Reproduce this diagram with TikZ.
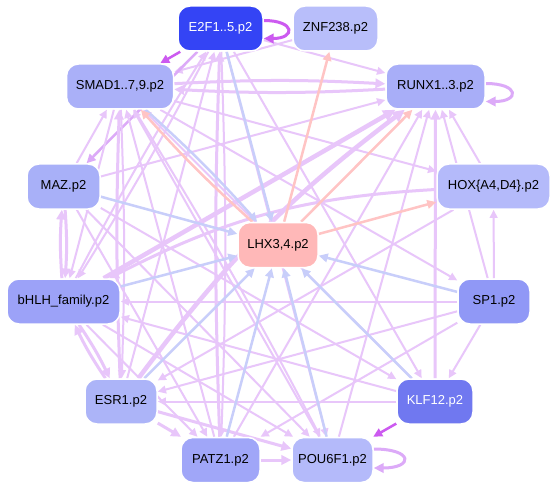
\documentclass[tikz,border=0pt]{standalone}
\usepackage{fontspec}
\setmainfont{Liberation Sans}
\usetikzlibrary{arrows.meta}
\pgfdeclarelayer{background}
\pgfdeclarelayer{canvas}
\pgfsetlayers{canvas,background,main}
\definecolor{cE2F}{RGB}{52,68,245}
\definecolor{cZNF}{RGB}{184,190,250}
\definecolor{cSMAD}{RGB}{170,176,248}
\definecolor{cRUNX}{RGB}{168,174,248}
\definecolor{cMAZ}{RGB}{168,176,248}
\definecolor{cHOX}{RGB}{180,186,250}
\definecolor{cLHX}{RGB}{255,184,184}
\definecolor{cbHLH}{RGB}{156,162,248}
\definecolor{cSP}{RGB}{144,152,246}
\definecolor{cESR}{RGB}{172,180,248}
\definecolor{cKLF}{RGB}{112,120,240}
\definecolor{cPATZ}{RGB}{160,166,248}
\definecolor{cPOU}{RGB}{180,186,250}
\definecolor{epur}{RGB}{232,198,250}
\definecolor{epurm}{RGB}{220,170,248}
\definecolor{epurd}{RGB}{204,90,240}
\definecolor{eblu}{RGB}{200,206,250}
\definecolor{epnk}{RGB}{255,196,196}
\begin{document}
\begin{tikzpicture}[x=1pt,y=-1pt,
  tf/.style={rectangle, rounded corners=12pt, draw=white, line width=1.5pt,
    minimum height=45pt, inner sep=0pt, text=black,
    font=\fontsize{13}{15}\selectfont},
  tipst/.style={-{Triangle[length=5pt 1.6,width=4.5pt 1.6]}},
  pa/.style={tipst, draw=epur, line width=2pt},
  pb/.style={tipst, draw=epur, line width=3pt},
  pc/.style={tipst, draw=epur, line width=4.5pt},
  pm/.style={tipst, draw=epurm, line width=2.5pt},
  pd/.style={tipst, draw=epurd, line width=2.5pt},
  bl/.style={tipst, draw=eblu, line width=2.5pt},
  pk/.style={tipst, draw=epnk, line width=2.5pt}]
\useasboundingbox (0,0) rectangle (556,489);
\begin{pgfonlayer}{canvas}
\fill[white] (0,0) rectangle (556,489);
\end{pgfonlayer}

\node[tf, fill=cE2F, text=white, minimum width=85pt] (E2F) at (220.5,28.5) {E2F1..5.p2};
\node[tf, fill=cZNF, minimum width=85pt] (ZNF) at (335.5,28.5) {ZNF238.p2};
\node[tf, fill=cSMAD, minimum width=107pt] (SMAD) at (120,86.5) {SMAD1..7,9.p2};
\node[tf, fill=cRUNX, minimum width=99pt] (RUNX) at (435.5,86.5) {RUNX1..3.p2};
\node[tf, fill=cMAZ, minimum width=73pt] (MAZ) at (63.5,186.5) {MAZ.p2};
\node[tf, fill=cHOX, minimum width=113pt] (HOX) at (493.5,186.5) {HOX\{A4,D4\}.p2};
\node[tf, fill=cLHX, minimum width=80pt] (LHX) at (278,245) {LHX3,4.p2};
\node[tf, fill=cbHLH, minimum width=113pt] (bHLH) at (63.5,301.5) {bHLH\_family.p2};
\node[tf, fill=cSP, minimum width=72pt] (SP1) at (494,301.5) {SP1.p2};
\node[tf, fill=cESR, minimum width=72pt] (ESR) at (121,401.5) {ESR1.p2};
\node[tf, fill=cKLF, text=white, minimum width=76pt] (KLF) at (435,401.5) {KLF12.p2};
\node[tf, fill=cPATZ, minimum width=79pt] (PATZ) at (220.5,460) {PATZ1.p2};
\node[tf, fill=cPOU, minimum width=81pt] (POU) at (332.5,460) {POU6F1.p2};

\begin{pgfonlayer}{background}
% purple edges
\draw[pb] (SMAD) to[bend left=3] (RUNX);
\draw[pb] (RUNX) to[bend left=3] (SMAD);
\draw[pa] (ZNF) -- (SMAD);
\draw[pa] (E2F) -- (RUNX);
\draw[pm] (E2F) -- (MAZ);
\draw[pb] (MAZ) to[bend left=4] (bHLH);
\draw[pb] (bHLH) to[bend left=4] (MAZ);
\draw[pa] (MAZ) -- (RUNX);
\draw[pc] (bHLH) -- (RUNX);
\draw[pc] (ESR) to[bend left=8] (RUNX);
\draw[pa] (MAZ) -- (SMAD);
\draw[pa] (SMAD) -- (bHLH);
\draw[pb] (ESR) to[bend left=2] (SMAD);
\draw[pa] (SMAD) to[bend left=2] (ESR);
\draw[pa] (PATZ) -- (SMAD);
\draw[pa] (POU) -- (SMAD);
\draw[pa] (KLF) -- (SMAD);
\draw[pa] (SMAD) to[bend left=2] (POU);
\draw[pa] (SMAD) -- (HOX);
\draw[pa] (SMAD) -- (SP1);
\draw[pa] (E2F) to[bend left=2] (bHLH);
\draw[pa] (bHLH) to[bend left=2] (E2F);
\draw[pa] (ESR) -- (E2F);
\draw[pb] (PATZ) to[bend left=2] (E2F);
\draw[pa] (E2F) to[bend left=2] (PATZ);
\draw[pa] (E2F) -- (POU);
\draw[pa] (E2F) -- (KLF);
\draw[pa] (HOX) -- (RUNX);
\draw[pa] (SP1) -- (HOX);
\draw[pa] (SP1) -- (bHLH);
\draw[pb] (HOX) to[bend right=12] (bHLH);
\draw[pa] (HOX) -- (ESR);
\draw[pa] (KLF) -- (ESR);
\draw[pa] (KLF) -- (bHLH);
\draw[pa] (SP1) -- (ESR);
\draw[pa] (SP1) -- (PATZ);
\draw[pa] (SP1) -- (KLF);
\draw[pb] (ESR) to[bend left=4] (bHLH);
\draw[pb] (bHLH) to[bend left=4] (ESR);
\draw[pa] (bHLH) -- (PATZ);
\draw[pa] (bHLH) -- (POU);
\draw[pb] (ESR) -- (PATZ);
\draw[pb] (ESR) -- (POU);
\draw[pa] (MAZ) -- (PATZ);
\draw[pa] (MAZ) -- (POU);
\draw[pa] (MAZ) -- (KLF);
\draw[pb] (PATZ) -- (POU);
\draw[pa] (POU) -- (RUNX);
\draw[pa] (PATZ) -- (RUNX);
\draw[pb] (KLF) -- (RUNX);
\draw[pa] (SP1) -- (RUNX);
\draw[pd] (KLF) -- (POU);
\draw[pd] (E2F) -- (SMAD);
% self loops
\draw[pd, line width=3pt] ([yshift=8pt]E2F.east) to[out=0,in=0,distance=32pt] ([yshift=-10pt]E2F.east);
\draw[pm, line width=3pt] ([yshift=3pt]RUNX.east) to[out=0,in=0,distance=34pt] ([yshift=-15pt]RUNX.east);
\draw[pm, line width=3pt] ([yshift=11pt]POU.east) to[out=0,in=0,distance=40pt] ([yshift=-8pt]POU.east);
% blue edges
\draw[bl] (E2F) -- (LHX);
\draw[bl] (SMAD) to[bend left=3] (LHX);
\draw[bl] (MAZ) -- (LHX);
\draw[bl] (bHLH) -- (LHX);
\draw[bl] (ESR) -- (LHX);
\draw[bl] (PATZ) -- (LHX);
\draw[bl] (POU) -- (LHX);
\draw[bl] (KLF) -- (LHX);
\draw[bl] (SP1) -- (LHX);
% pink edges
\draw[pk] (LHX) -- (ZNF);
\draw[pk] (LHX) -- (RUNX);
\draw[pk] (LHX) -- (HOX);
\draw[pk] (LHX) to[bend left=3] (SMAD);
\end{pgfonlayer}
\end{tikzpicture}
\end{document}
